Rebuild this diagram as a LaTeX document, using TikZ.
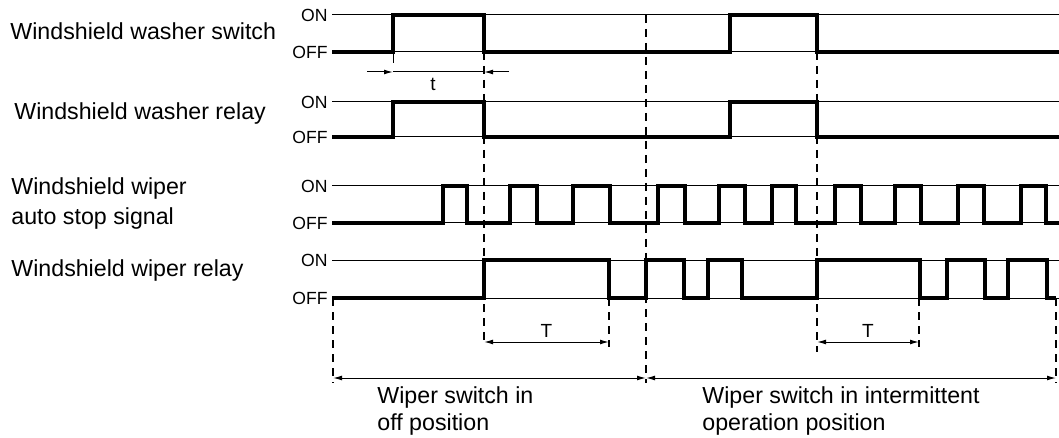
\documentclass[tikz,border=0pt]{standalone}
\usepackage{fontspec}
\setmainfont{Liberation Sans}
\usetikzlibrary{arrows.meta}

\begin{document}
\begin{tikzpicture}
[
    x=0.5pt, y=-0.5pt,
    sig/.style={line width=1.8pt, line join=miter},
    levelline/.style={line width=0.5pt},
    guide/.style={line width=0.6pt, dash pattern=on 4pt off 3pt},
    tip/.style={line width=0.5pt, -{Latex[length=4.5pt,width=2.4pt]}},
    dimline/.style={line width=0.5pt, {Latex[length=4.5pt,width=2.4pt]}-{Latex[length=4.5pt,width=2.4pt]}},
    onoff/.style={anchor=east, inner sep=1.5pt, font=\fontsize{8.8}{10}\selectfont},
    rowlabel/.style={anchor=base west, inner sep=0pt, align=left, font=\fontsize{11.6}{15}\selectfont},
    small/.style={inner sep=1pt, font=\fontsize{9.5}{10}\selectfont},
]
\useasboundingbox (0,0) rectangle (1059,438);

\node[rowlabel] (wsw) at (10,40) {Windshield washer switch};
\node[rowlabel] (wrl) at (14,120) {Windshield washer relay};
\node[rowlabel] (ast) at (11,225) {Windshield wiper\\auto stop signal};
\node[rowlabel] (wpr) at (11,276) {Windshield wiper relay};

\foreach \on/\off [count=\i] in {15/52, 102/137, 186/223, 260/298} {
    \draw[levelline] (332,\on) -- (1059,\on);
    \draw[levelline] (332,\off) -- (1059,\off);
    \node[onoff] (on\i) at (331,\on) {ON};
    \node[onoff] (off\i) at (331,\off) {OFF};
}

\draw[guide] (484,52) -- (484,345);
\draw[guide] (646,15) -- (646,383);
\draw[guide] (817,52) -- (817,352);
\draw[guide] (333,298) -- (333,383);
\draw[guide] (609,298) -- (609,347);
\draw[guide] (919,298) -- (919,347);
\draw[guide] (1056,298) -- (1056,383);
\draw[levelline] (393,52) -- (393,63);

\draw[sig] (332,52) -| (393,15) -| (484,52) -| (730,15) -| (817,52) -- (1059,52);
\draw[sig] (332,137) -| (393,102) -| (484,137) -| (730,102) -| (817,137) -- (1059,137);
\draw[sig] (332,223) -| (443,186) -| (467,223) -| (510,186) -| (537,223) -| (573,186)
    -| (610,223) -| (658,186) -| (685,223) -| (719,186) -| (745,223) -| (772,186)
    -| (796,223) -| (835,186) -| (861,223) -| (895,186) -| (921,223) -| (958,186)
    -| (984,223) -| (1021,186) -| (1046,223) -- (1059,223);
\draw[sig] (332,298) -| (484,260) -| (609,298) -| (646,260) -| (684,298) -| (708,260)
    -| (742,298) -| (817,260) -| (920,298) -| (947,260) -| (985,298) -| (1008,260)
    -| (1047,298) -- (1056,298);

\coordinate (ta) at (393,72);
\coordinate (tb) at (484,72);
\draw[tip] (367,72) -- (ta);
\draw[levelline] (ta) -- (tb);
\draw[tip] (509,72) -- (tb);
\node[small] (tlab) at (433,84) {t};

\coordinate (T1a) at (484,342);
\coordinate (T1b) at (609,342);
\draw[dimline] (T1a) -- (T1b) node[small, midway, above=1pt] (T1) {T};
\coordinate (T2a) at (817,342);
\coordinate (T2b) at (919,342);
\draw[dimline] (T2a) -- (T2b) node[small, midway, above=1pt] (T2) {T};

\coordinate (offa) at (333,378);
\coordinate (mid) at (646,378);
\coordinate (intb) at (1056,378);
\draw[dimline] (offa) -- (mid);
\draw[dimline] (mid) -- (intb);
\node[rowlabel, font=\fontsize{11.6}{13.5}\selectfont] (offpos) at (377,430) {Wiper switch in\\off position};
\node[rowlabel, font=\fontsize{11.6}{13.5}\selectfont] (intpos) at (702,430) {Wiper switch in intermittent\\operation position};
\end{tikzpicture}
\end{document}
